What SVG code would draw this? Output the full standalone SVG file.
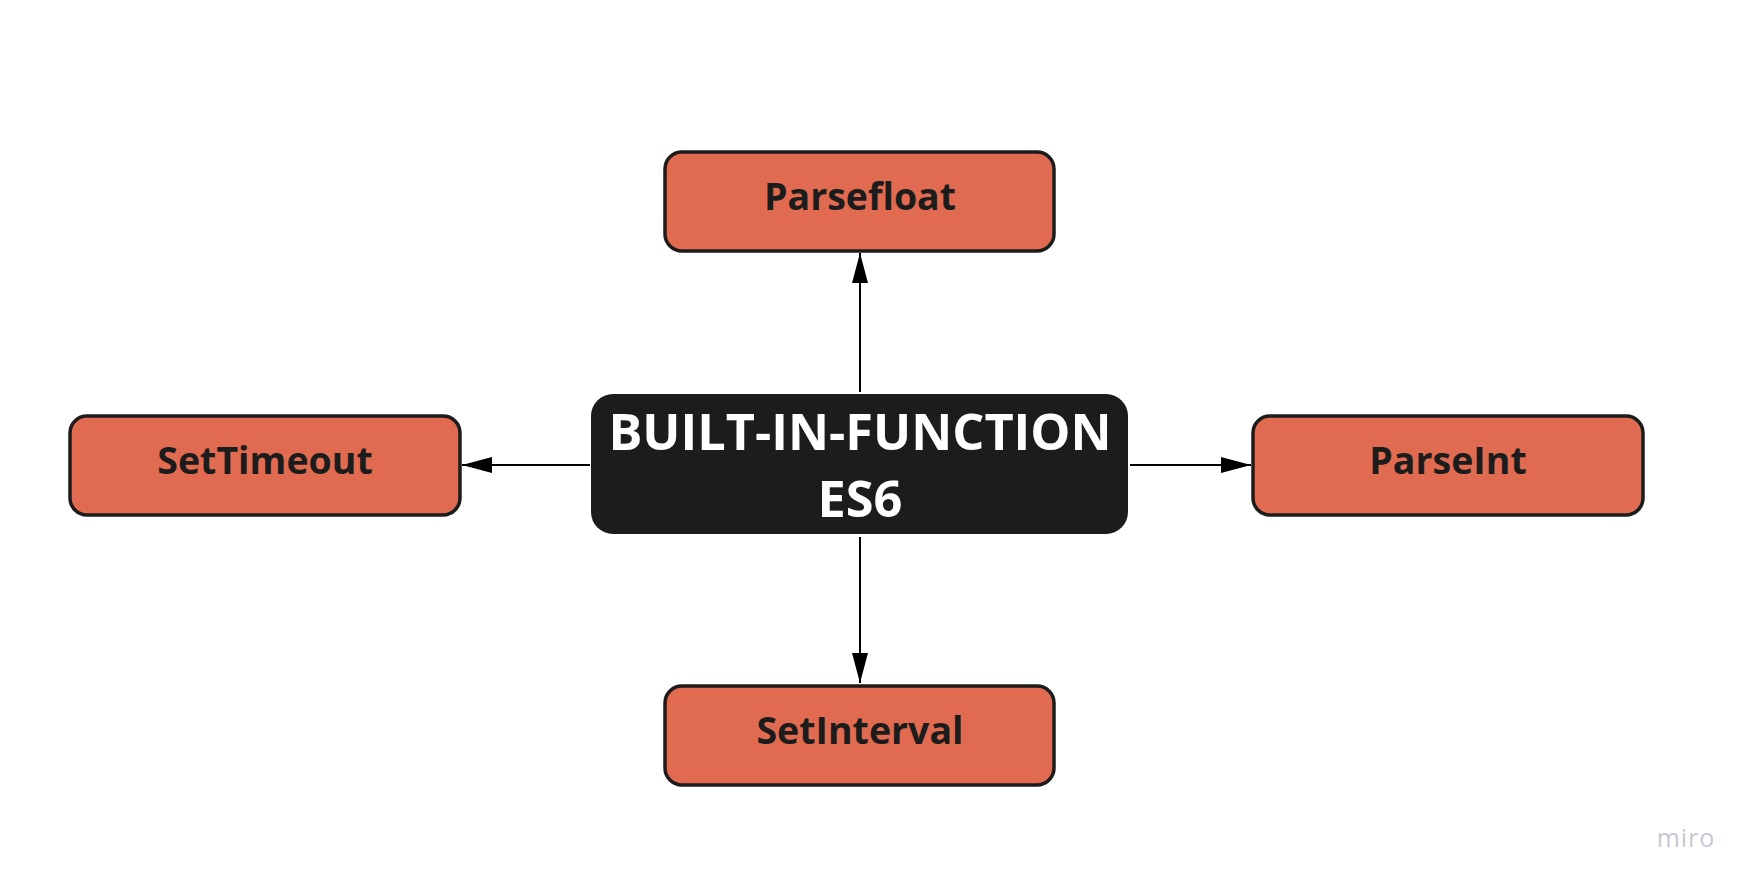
<svg xmlns="http://www.w3.org/2000/svg" width="1755" height="890" viewBox="0 0 1755 890">
<style>
.node rect.box{fill:#e06b51;stroke:#1c1c1c;stroke-width:3.5}
.node text{font-family:"Open Sans","Liberation Sans",sans-serif;font-weight:700;font-size:37.5px;fill:#1c1c1c;text-anchor:middle}
.center rect{fill:#1c1c1c}
.center text{font-family:"Open Sans","Liberation Sans",sans-serif;font-weight:700;font-size:50.5px;fill:#ffffff;text-anchor:middle}
.conn line{stroke:#000;stroke-width:2;fill:none}
</style>
<defs>
<marker id="arr" viewBox="0 0 30 16" refX="30" refY="8" markerWidth="30" markerHeight="16" markerUnits="userSpaceOnUse" orient="auto">
<path d="M0,0 L30,8 L0,16 Z" fill="#000"/>
</marker>
</defs>
<rect width="1755" height="890" fill="#ffffff"/>
<g id="connectors" class="conn">
<line x1="860" y1="392" x2="860" y2="253" marker-end="url(#arr)"/>
<line x1="590" y1="465" x2="462" y2="465" marker-end="url(#arr)"/>
<line x1="1130" y1="465" x2="1251" y2="465" marker-end="url(#arr)"/>
<line x1="860" y1="537" x2="860" y2="683" marker-end="url(#arr)"/>
</g>
<g id="center" class="center">
<rect x="591" y="394" width="537" height="140" rx="22"/>
<text x="860" y="450">BUILT-IN-FUNCTION</text>
<text x="860" y="517">ES6</text>
</g>
<g id="parsefloat" class="node">
<rect class="box" x="665" y="152" width="389" height="99" rx="17"/>
<text x="860" y="210">Parsefloat</text>
</g>
<g id="settimeout" class="node">
<rect class="box" x="70" y="416" width="390" height="99" rx="17"/>
<text x="265" y="474">SetTimeout</text>
</g>
<g id="parseint" class="node">
<rect class="box" x="1253" y="416" width="390" height="99" rx="17"/>
<text x="1448" y="474">ParseInt</text>
</g>
<g id="setinterval" class="node">
<rect class="box" x="665" y="686" width="389" height="99" rx="17"/>
<text x="860" y="744">SetInterval</text>
</g>
<text x="1686" y="847" font-family="'Open Sans','Liberation Sans',sans-serif" font-size="25" fill="#c6c7d4" text-anchor="middle" letter-spacing="1">miro</text>
</svg>
